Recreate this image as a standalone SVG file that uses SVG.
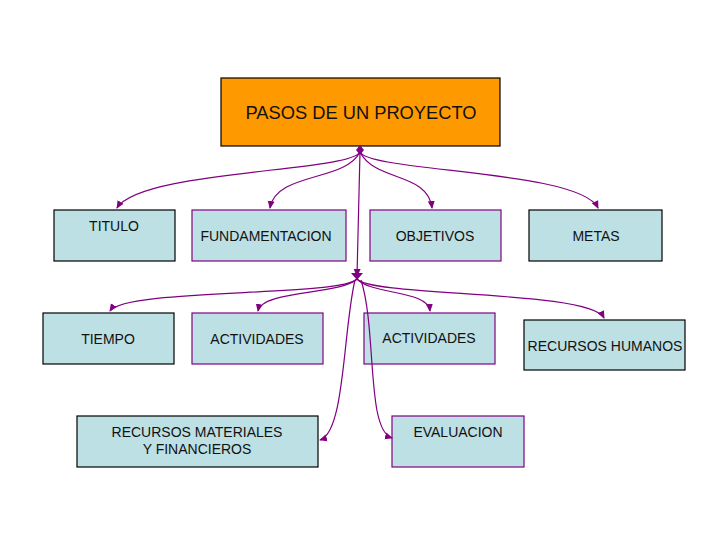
<svg xmlns="http://www.w3.org/2000/svg" width="728" height="546" viewBox="0 0 728 546">
<defs>
<marker id="ah" markerWidth="8" markerHeight="8" refX="7" refY="4" orient="auto" markerUnits="userSpaceOnUse">
<path d="M0,0.5 L8,4 L0,7.5 Z" fill="#800080"/>
</marker>
<style>
.box{fill:#BDE0E4;stroke-width:1.2}
.k{stroke:#000}
.p{stroke:#800080}
.t{font-family:"Liberation Sans",Arial,sans-serif;font-size:14px;fill:#111;text-anchor:middle}
.c{fill:none;stroke:#800080;stroke-width:1.2;marker-end:url(#ah)}
</style>
</defs>
<rect width="728" height="546" fill="#fff"/>
<g id="main">
<rect x="221" y="78" width="279" height="68" fill="#FF9900" stroke="#000" stroke-width="1.2"/>
<text x="361" y="119" class="t" style="font-size:18.3px">PASOS DE UN PROYECTO</text>
</g>
<g id="titulo"><rect class="box k" x="54" y="210" width="121" height="51"/><text class="t" x="114" y="231">TITULO</text></g>
<g id="fundamentacion"><rect class="box p" x="192" y="210" width="154" height="51"/><text class="t" x="266" y="241">FUNDAMENTACION</text></g>
<g id="objetivos"><rect class="box p" x="370" y="210" width="131" height="51"/><text class="t" x="435" y="241">OBJETIVOS</text></g>
<g id="metas"><rect class="box k" x="529" y="210" width="133" height="51"/><text class="t" x="596" y="241">METAS</text></g>
<g id="tiempo"><rect class="box k" x="43" y="313" width="131" height="51"/><text class="t" x="108" y="344">TIEMPO</text></g>
<g id="actividades1"><rect class="box p" x="192" y="313" width="131" height="51"/><text class="t" x="257" y="344">ACTIVIDADES</text></g>
<g id="actividades2"><rect class="box p" x="364" y="313" width="131" height="51"/><text class="t" x="429" y="343">ACTIVIDADES</text></g>
<g id="recursos-humanos"><rect class="box k" x="524" y="320" width="161" height="50"/><text class="t" x="605" y="351">RECURSOS HUMANOS</text></g>
<g id="recursos-materiales"><rect class="box k" x="77" y="416" width="241" height="51"/><text class="t" x="197" y="437">RECURSOS MATERIALES</text><text class="t" x="197" y="454">Y FINANCIEROS</text></g>
<g id="evaluacion"><rect class="box p" x="392" y="416" width="132" height="51"/><text class="t" x="458" y="437">EVALUACION</text></g>
<g id="connectors">
<path class="c" d="M360,152 C350,172 140,170 117,208"/>
<path class="c" d="M360,152 C345,182 276,172 270,208"/>
<path class="c" d="M360,152 C375,182 428,172 432,208"/>
<path class="c" d="M360,152 C370,172 580,170 598,208"/>
<path class="c" d="M360,152 L357,276"/>
<path class="c" d="M357,279 C340,297 125,288 110,311"/>
<path class="c" d="M357,279 C340,295 262,290 258,311"/>
<path class="c" d="M357,279 C372,295 428,290 430,311"/>
<path class="c" d="M357,279 C372,297 590,290 604,318"/>
<path class="c" d="M355,280 C343,330 345,432 320,440"/>
<path class="c" d="M361,280 C377,330 366,430 392,438"/>
<path d="M360,145 L364,150 L360,155 L356,150 Z" fill="#800080"/>
<path d="M351,273 L363,273 L357,280 Z" fill="#800080"/>
</g>
</svg>
